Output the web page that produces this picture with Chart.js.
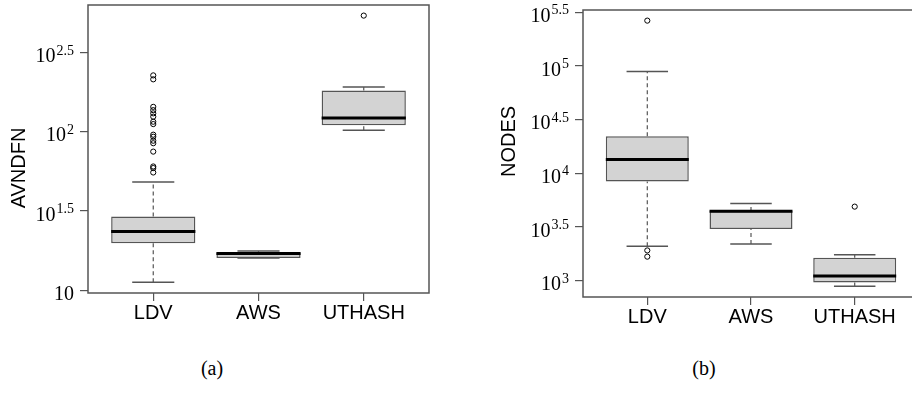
<!DOCTYPE html>
<html>
<head>
<meta charset="utf-8">
<script src="https://cdn.jsdelivr.net/npm/chart.js@4"></script>
<style>
html, body { margin: 0; padding: 0; background: #fff; overflow: hidden; width: 912px; height: 394px; }
#chartA { position: absolute; left: 0; top: 0; }
#chartB { position: absolute; left: 480px; top: 0; }
.cap { position: absolute; top: 357px; font: 20px "Liberation Serif"; line-height: 22px; width: 60px; text-align: center; }
</style>
</head>
<body>
<canvas id="chartA" width="440" height="330"></canvas>
<canvas id="chartB" width="450" height="330"></canvas>
<div class="cap" style="left:182px">(a)</div>
<div class="cap" style="left:674px">(b)</div>
<script>
// values are log10 of the measured quantity
let categories = ['LDV', 'AWS', 'UTHASH'];

// (a) AVNDFN
let loA = [1.050, 1.203, 2.011];
let q1A = [1.297, 1.203, 2.042];
let medA = [1.371, 1.231, 2.088];
let q3A = [1.465, 1.237, 2.262];
let hiA = [1.684, 1.247, 2.285];
let outLdvA = [2.358, 2.333, 2.159, 2.138, 2.118, 2.097, 2.065, 2.050, 1.983, 1.970, 1.945, 1.929, 1.876, 1.782, 1.772, 1.744];
let outAwsA = [];
let outUthA = [2.736];
let ticksA = [1, 1.5, 2, 2.5];

// (b) NODES
let loB = [3.322, 3.341, 2.947];
let q1B = [3.925, 3.481, 2.984];
let medB = [4.130, 3.646, 3.043];
let q3B = [4.345, 3.649, 3.214];
let hiB = [4.948, 3.720, 3.242];
let outLdvB = [5.423, 3.282, 3.224];
let outAwsB = [];
let outUthB = [3.690];
let ticksB = [3, 3.5, 4, 4.5, 5, 5.5];

const boxLine = '#555';

// frame, 10^x tick labels and the y title
const decor = {
    id: 'decor',
    afterDraw(chart, args, opts) {
        const ctx = chart.ctx;
        const a = chart.chartArea;
        const y = chart.scales.y;
        ctx.save();
        ctx.strokeStyle = boxLine;
        ctx.lineWidth = 1.5;
        ctx.strokeRect(a.left, a.top, a.right - a.left, a.bottom - a.top);

        ctx.fillStyle = '#000';
        ctx.textBaseline = 'alphabetic';
        ctx.textAlign = 'left';
        const xr = a.left - 14;
        y.ticks.forEach(t => {
            const py = y.getPixelForValue(t.value);
            const exp = t.value === 1 ? '' : String(t.value);
            ctx.font = '14px "Liberation Serif"';
            const ew = exp ? ctx.measureText(exp).width + 1 : 0;
            if (exp) ctx.fillText(exp, xr - ew + 1, py + 2);
            ctx.font = '20px "Liberation Serif"';
            const bw = ctx.measureText('10').width;
            ctx.fillText('10', xr - ew - bw, py + 9.5);
        });

        ctx.translate(opts.titleX, opts.titleY);
        ctx.rotate(-Math.PI / 2);
        ctx.textAlign = 'center';
        ctx.textBaseline = 'middle';
        ctx.font = '20px "Liberation Sans"';
        ctx.fillText(opts.title, 0, 0);
        ctx.restore();
    }
};

function segs(lo, hi, half) {
    let pts = [];
    lo.forEach((v, i) => {
        pts.push({x: i + 1 - half, y: v}, {x: i + 1 + half, y: hi[i]}, {x: i + 1, y: null});
    });
    return pts;
}

function stems(from, to) {
    let pts = [];
    from.forEach((v, i) => {
        pts.push({x: i + 1, y: v}, {x: i + 1, y: to[i]}, {x: i + 1, y: null});
    });
    return pts;
}

function makeChart(id, d) {
    let outliers = [];
    [d.outLdv, d.outAws, d.outUth].forEach((list, i) => {
        list.forEach(v => outliers.push({x: i + 1, y: v}));
    });

    return new Chart(document.getElementById(id), {
        type: 'bar',
        data: {
            datasets: [
                {
                    type: 'scatter',
                    order: 0,
                    data: outliers,
                    pointStyle: 'circle',
                    pointRadius: 2.6,
                    borderColor: '#000',
                    backgroundColor: 'rgba(0,0,0,0)',
                    borderWidth: 1
                },
                {
                    type: 'line',
                    order: 1,
                    data: segs(d.med, d.med, 0.4),
                    borderColor: '#000',
                    borderWidth: 3,
                    pointRadius: 0,
                    spanGaps: false
                },
                {
                    type: 'line',
                    order: 2,
                    data: segs(d.hi, d.hi, 0.2).concat(segs(d.lo, d.lo, 0.2)),
                    borderColor: boxLine,
                    borderWidth: 1.5,
                    pointRadius: 0,
                    spanGaps: false
                },
                {
                    type: 'line',
                    order: 2,
                    data: stems(d.q3, d.hi).concat(stems(d.lo, d.q1)),
                    borderColor: boxLine,
                    borderWidth: 1.2,
                    borderDash: [4, 3],
                    pointRadius: 0,
                    spanGaps: false
                },
                {
                    type: 'bar',
                    order: 3,
                    data: d.q1.map((v, i) => ({x: i + 1, y: [v, d.q3[i]]})),
                    backgroundColor: '#d3d3d3',
                    borderColor: boxLine,
                    borderWidth: 1.5,
                    borderSkipped: false,
                    barPercentage: 0.8,
                    categoryPercentage: 1
                }
            ]
        },
        options: {
            responsive: false,
            animation: false,
            layout: {padding: d.pad},
            plugins: {
                legend: {display: false},
                tooltip: {enabled: false},
                decor: {title: d.title, titleX: d.titleX, titleY: d.titleY}
            },
            scales: {
                x: {
                    type: 'linear',
                    min: 0.38,
                    max: 3.62,
                    offset: false,
                    afterBuildTicks: s => { s.ticks = categories.map((c, i) => ({value: i + 1})); },
                    afterFit: s => { s.height = d.xHeight; },
                    grid: {offset: false, drawOnChartArea: false, drawTicks: true, tickLength: 8, color: boxLine, lineWidth: 1.2},
                    border: {display: false},
                    ticks: {
                        callback: v => categories[v - 1],
                        color: '#000',
                        padding: 0,
                        maxRotation: 0,
                        autoSkip: false,
                        font: {family: '"Liberation Sans"', size: 20}
                    }
                },
                y: {
                    type: 'linear',
                    min: d.yMin,
                    max: d.yMax,
                    afterBuildTicks: s => { s.ticks = d.ticks.map(v => ({value: v})); },
                    afterFit: s => { s.width = d.yWidth; },
                    grid: {offset: false, drawOnChartArea: false, drawTicks: true, tickLength: 8, color: boxLine, lineWidth: 1.2},
                    border: {display: false},
                    ticks: {display: false}
                }
            }
        },
        plugins: [decor]
    });
}

makeChart('chartA', {
    lo: loA, q1: q1A, med: medA, q3: q3A, hi: hiA,
    outLdv: outLdvA, outAws: outAwsA, outUth: outUthA, ticks: ticksA,
    yMin: 0.982, yMax: 2.803,
    title: 'AVNDFN', titleX: 19, titleY: 168,
    pad: {top: 4, right: 11, left: 0, bottom: 0},
    yWidth: 88, xHeight: 37
});

makeChart('chartB', {
    lo: loB, q1: q1B, med: medB, q3: q3B, hi: hiB,
    outLdv: outLdvB, outAws: outAwsB, outUth: outUthB, ticks: ticksB,
    yMin: 2.848, yMax: 5.522,
    title: 'NODES', titleX: 29, titleY: 141.5,
    pad: {top: 10, right: 11, left: 0, bottom: 0},
    yWidth: 103, xHeight: 33
});
</script>
</body>
</html>
